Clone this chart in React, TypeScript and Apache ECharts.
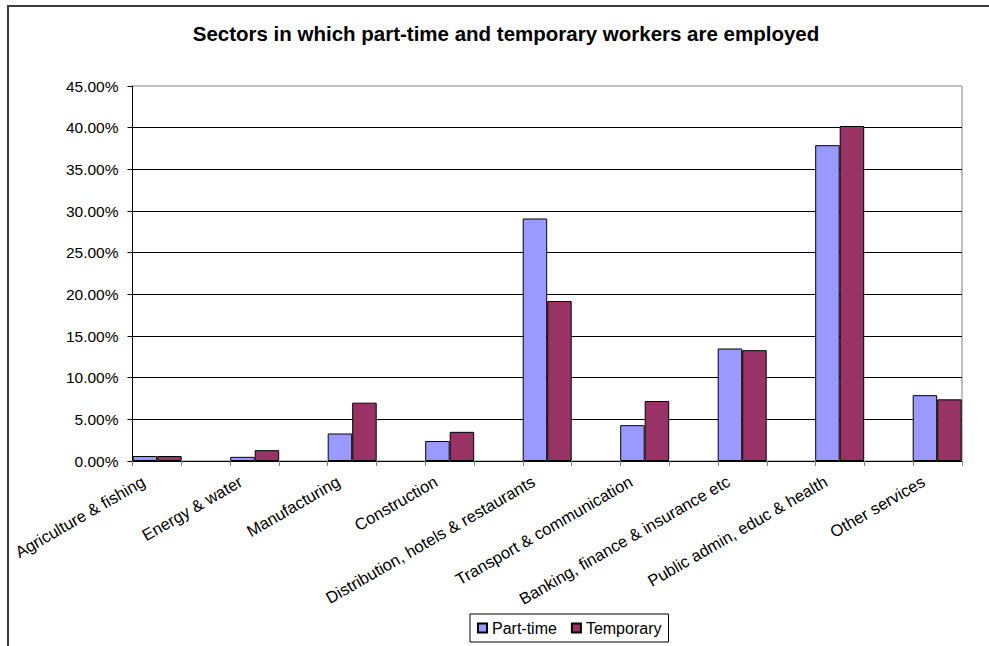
import React, { useEffect, useRef } from "react";
import * as echarts from "echarts";

const categories = [
  "Agriculture & fishing",
  "Energy & water",
  "Manufacturing",
  "Construction",
  "Distribution, hotels & restaurants",
  "Transport & communication",
  "Banking, finance & insurance etc",
  "Public admin, educ & health",
  "Other services",
];
const partTime = [0.6, 0.5, 3.3, 2.4, 29.1, 4.3, 13.5, 37.9, 7.9];
const temporary = [0.6, 1.3, 7.0, 3.5, 19.2, 7.2, 13.3, 40.2, 7.4];
const seriesNames = ["Part-time", "Temporary"];
const titleText = "Sectors in which part-time and temporary workers are employed";

const FONT = '"Liberation Sans", Arial, sans-serif';

export default function App() {
  const ref = useRef<HTMLDivElement>(null);
  useEffect(() => {
    if (!ref.current) return;
    const chart = echarts.init(ref.current, null, { renderer: "svg" });
    chart.setOption({
      animation: false,
      backgroundColor: "#ffffff",
      graphic: [
        {
          type: "polyline",
          shape: { points: [[8, 646], [8, 6], [989, 6]] },
          style: { stroke: "#3c3c3c", lineWidth: 2, fill: null },
          silent: true,
        },
        {
          type: "text",
          x: 506,
          y: 33.5,
          style: {
            text: titleText,
            fill: "#000",
            font: `bold 20.5px ${FONT}`,
            align: "center",
            textAlign: "center",
            verticalAlign: "middle",
            textVerticalAlign: "middle",
          },
        },
      ],
      legend: {
        data: seriesNames,
        left: 470,
        top: 614,
        orient: "horizontal",
        icon: "rect",
        itemWidth: 9,
        itemHeight: 9,
        itemGap: 14,
        padding: [6, 7, 6, 7],
        borderColor: "#000",
        borderWidth: 1,
        textStyle: { fontSize: 16, fontFamily: FONT, color: "#000" },
      },
      grid: [
        {
          left: 132.5,
          top: 86,
          width: 829.5,
          height: 375,
          show: true,
          borderColor: "#808080",
          borderWidth: 1,
          backgroundColor: "transparent",
        },
        { left: 108.45, top: 86, width: 877.5, height: 375 },
      ],
      xAxis: [
        {
          gridIndex: 0,
          type: "value",
          min: 0,
          max: 17,
          interval: 1,
          axisLine: { show: true, lineStyle: { color: "#000" } },
          axisTick: { show: true, length: 5, lineStyle: { color: "#808080" } },
          axisLabel: { show: false },
          splitLine: { show: false },
        },
        {
          gridIndex: 1,
          type: "category",
          data: categories,
          axisLine: { show: false },
          axisTick: { show: false },
          splitLine: { show: false },
          axisLabel: {
            interval: 0,
            rotate: 30,
            margin: 11,
            padding: [0, 16, 0, 0],
            fontSize: 16.5,
            fontFamily: FONT,
            color: "#000",
          },
        },
      ],
      yAxis: [
        {
          gridIndex: 0,
          type: "value",
          min: 0,
          max: 45,
          interval: 5,
          axisLine: { show: true, lineStyle: { color: "#000" } },
          axisTick: { show: true, length: 5, lineStyle: { color: "#000" } },
          axisLabel: {
            formatter: (v: number) => v.toFixed(2) + "%",
            fontSize: 15.5,
            fontFamily: FONT,
            color: "#000",
            margin: 14,
          },
          splitLine: {
            show: true,
            showMaxLine: false,
            lineStyle: { color: "#000", width: 1 },
          },
        },
        { gridIndex: 1, type: "value", min: 0, max: 45, show: false },
      ],
      series: [
        {
          name: seriesNames[0],
          type: "bar",
          xAxisIndex: 1,
          yAxisIndex: 1,
          data: partTime,
          barWidth: 24.5,
          barGap: "0%",
          itemStyle: { color: "#9999FF", borderColor: "#000", borderWidth: 1 },
        },
        {
          name: seriesNames[1],
          type: "bar",
          xAxisIndex: 1,
          yAxisIndex: 1,
          data: temporary,
          barWidth: 24.5,
          barGap: "0%",
          itemStyle: { color: "#993366", borderColor: "#000", borderWidth: 1 },
        },
      ],
    });
    return () => chart.dispose();
  }, []);
  return (
    <div
      ref={ref}
      style={{ position: "fixed", left: 0, top: 0, width: 989, height: 646, background: "#fff" }}
    />
  );
}
